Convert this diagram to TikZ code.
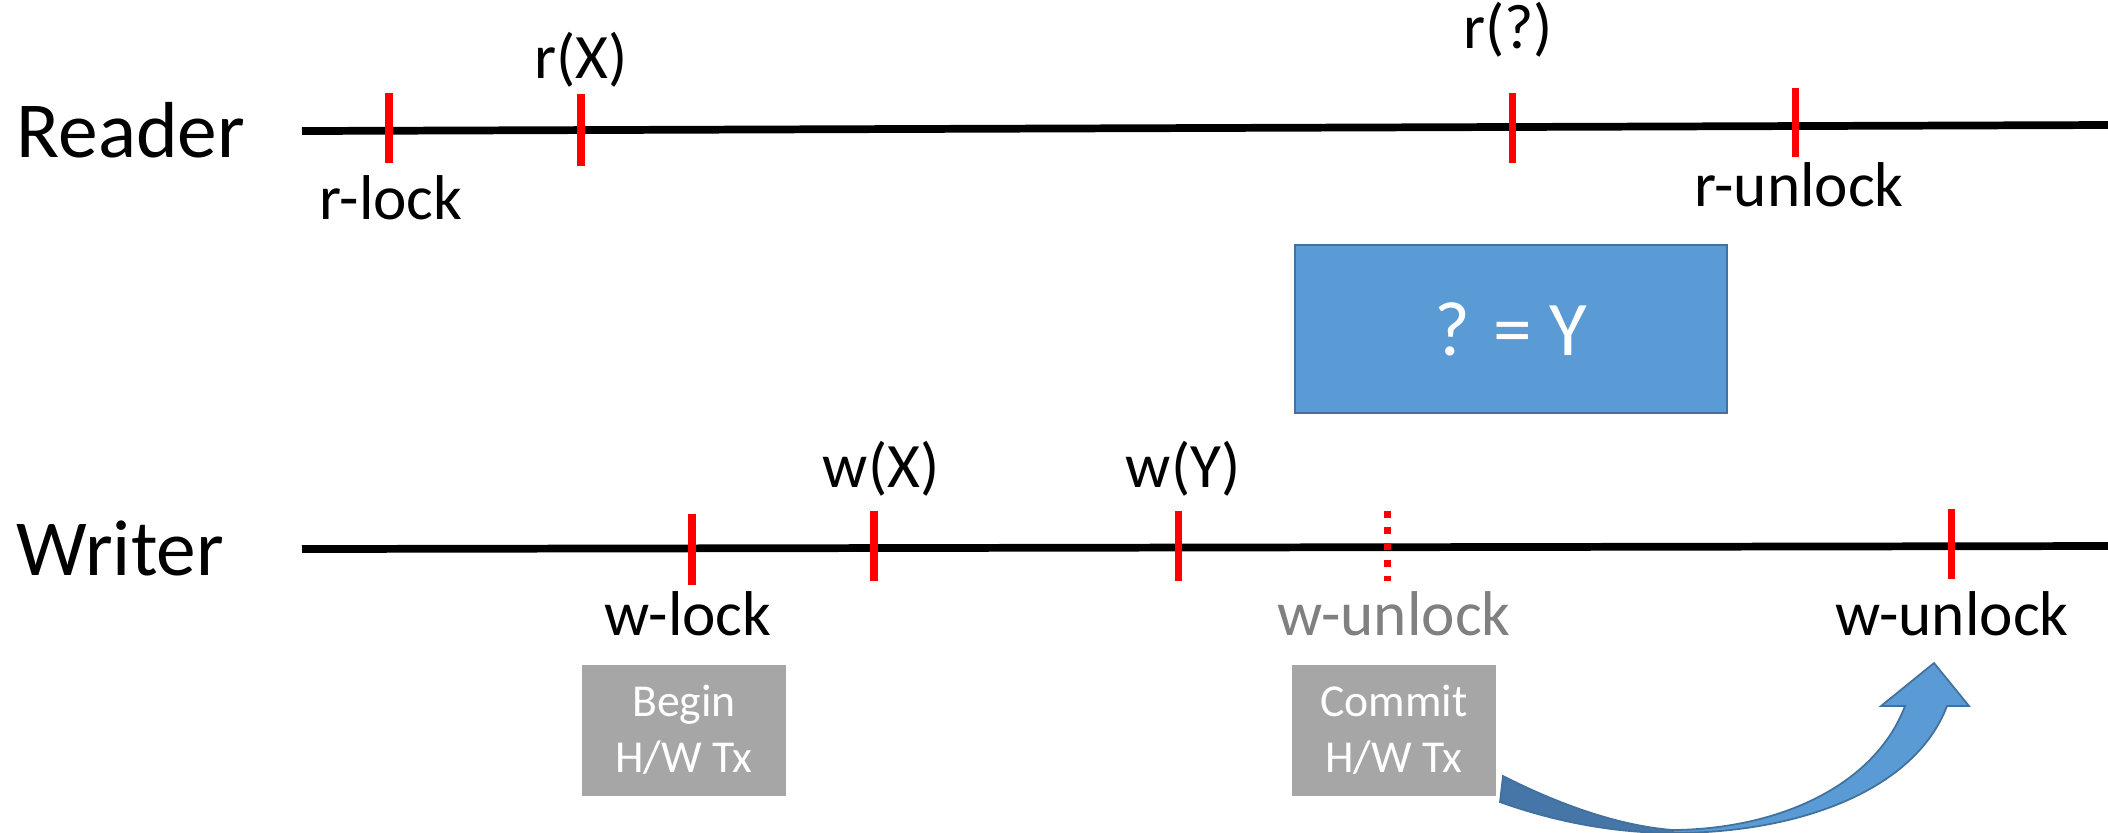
\documentclass[tikz,border=0pt]{standalone}
\usepackage{fontspec}
\setmainfont{Carlito}
\definecolor{tickred}{RGB}{255,0,0}
\definecolor{boxblue}{RGB}{91,155,213}
\definecolor{boxblueedge}{RGB}{65,113,156}
\definecolor{boxgray}{RGB}{166,166,166}
\definecolor{txtgray}{RGB}{128,128,128}
\definecolor{arrowdark}{RGB}{70,117,168}
\begin{document}
\begin{tikzpicture}[x=0.1mm,y=-0.1mm,
  timeline/.style={line width=2.2pt, black},
  tickmark/.style={line width=2pt, tickred},
  dashtick/.style={line width=2pt, tickred, dash pattern=on 2pt off 2.6pt},
  lbl/.style={font=\fontsize{18}{21}\selectfont, inner sep=0pt, anchor=base},
  actor/.style={font=\fontsize{22.6}{27}\selectfont, inner sep=0pt, anchor=base west},
  graybox/.style={fill=boxgray, text=white, align=center, inner sep=0pt,
    font=\fontsize{13}{16}\selectfont, minimum width=20.4mm, minimum height=13.1mm},
  bluebox/.style={fill=boxblue, draw=boxblueedge, line width=0.8pt, text=white,
    font=\fontsize{22}{26}\selectfont, minimum width=43.2mm, minimum height=16.8mm},
  blockarrow/.style={fill=boxblue, draw=boxblueedge, line width=0.5pt},
  blockback/.style={fill=arrowdark, draw=boxblueedge, line width=0.5pt},
]
\useasboundingbox (0,0) rectangle (2108,832);

% actors
\node[actor] (reader) at (16,157) {Reader};
\node[actor] (writer) at (16,575) {Writer};

% time lines
\coordinate (rs) at (302,131);
\coordinate (re) at (2108,125);
\coordinate (ws) at (302,549);
\coordinate (we) at (2108,546);
\draw[timeline] (rs) -- (re);
\draw[timeline] (ws) -- (we);

% reader ticks
\coordinate (t1a) at (389,93);  \coordinate (t1b) at (389,163);
\coordinate (t2a) at (581,94);  \coordinate (t2b) at (581,166);
\coordinate (t3a) at (1512,93); \coordinate (t3b) at (1512,163);
\coordinate (t4a) at (1795,88); \coordinate (t4b) at (1795,157);
\draw[tickmark] (t1a) -- (t1b);
\draw[tickmark] (t2a) -- (t2b);
\draw[tickmark] (t3a) -- (t3b);
\draw[tickmark] (t4a) -- (t4b);

\node[lbl] (rlock) at (391,219) {r-lock};
\node[lbl] (rx) at (581,78) {r(X)};
\node[lbl] (rq) at (1508,48) {r(?)};
\node[lbl] (runlock) at (1799,206) {r-unlock};

% writer ticks
\coordinate (u1a) at (692,514);  \coordinate (u1b) at (692,585);
\coordinate (u2a) at (874,511);  \coordinate (u2b) at (874,581);
\coordinate (u3a) at (1178,511); \coordinate (u3b) at (1178,581);
\coordinate (u4a) at (1387,511); \coordinate (u4b) at (1387,581);
\coordinate (u5a) at (1951,509); \coordinate (u5b) at (1951,579);
\draw[tickmark] (u1a) -- (u1b);
\draw[tickmark] (u2a) -- (u2b);
\draw[tickmark] (u3a) -- (u3b);
\draw[dashtick] (u4a) -- (u4b);
\draw[tickmark] (u5a) -- (u5b);

\node[lbl] (wlock) at (688,635) {w-lock};
\node[lbl] (wx) at (881,487) {w(X)};
\node[lbl] (wy) at (1183,487) {w(Y)};
\node[lbl, text=txtgray] (wunlockg) at (1394,635) {w-unlock};
\node[lbl] (wunlock) at (1952,635) {w-unlock};

% boxes
\node[bluebox] (eq) at (1511,329) {? = Y};
\node[graybox] (begin) at (684,730) {Begin\\H/W Tx};
\node[graybox] (commit) at (1394,730) {Commit\\H/W Tx};

% curved block arrow: front (light) part
\draw[blockarrow] (1673,833) .. controls (1800,833) and (1915,790) .. (1947,706)
  -- (1969,706) -- (1934,663) -- (1881,706) -- (1905,706)
  .. controls (1875,785) and (1780,829) .. (1673,830) -- cycle;
% back (dark) part near the tail
\draw[blockback] (1503,776) .. controls (1560,805) and (1620,826) .. (1673,830)
  -- (1673,833) .. controls (1610,833) and (1550,820) .. (1500,802) -- cycle;
\end{tikzpicture}
\end{document}
